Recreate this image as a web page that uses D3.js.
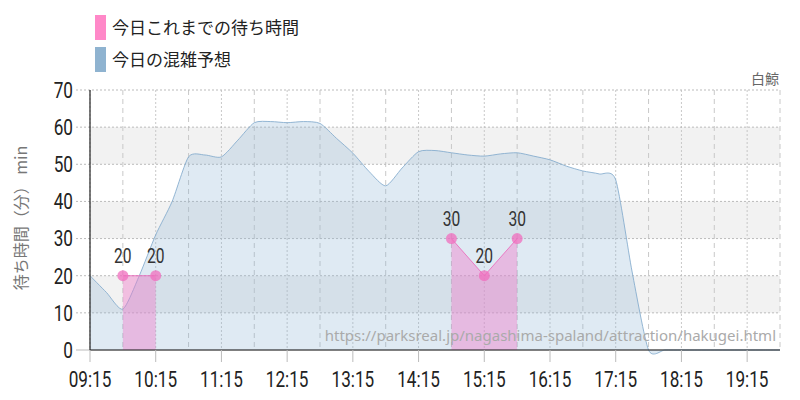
<!DOCTYPE html>
<html>
<head>
<meta charset="utf-8">
<script src="https://cdn.jsdelivr.net/npm/d3@7"></script>
<style>
  body { margin: 0; background: #fff; }
  .tick-label { font-family: Roboto, sans-serif; }
</style>
</head>
<body>
<svg id="chart" width="800" height="400"></svg>
<script>
// forecast (today's crowd prediction), every 15 minutes
const forecastTimes = ["09:15","09:30","09:45","10:00","10:15","10:30","10:45","11:00","11:15","11:30","11:45",
  "12:00","12:15","12:30","12:45","13:00","13:15","13:30","13:45","14:00","14:15","14:30","14:45",
  "15:00","15:15","15:30","15:45","16:00","16:15","16:30","16:45","17:00","17:15","17:30","17:45",
  "18:00","18:15","18:30","18:45","19:00","19:15","19:30","19:45"];
const forecastValues = [20, 15.5, 11, 20, 31, 40, 52, 52.5, 52, 56.5, 61.2,
  61.5, 61.2, 61.5, 61, 57, 53, 48, 44.2, 49, 53.4, 53.7, 53.1,
  52.5, 52.2, 52.8, 53.1, 52.2, 51.2, 49.5, 48.2, 47.4, 45.8, 21, 0,
  0, 0, 0, 0, 0, 0, 0, 0];

// actual wait times so far (two separate runs)
const actualRuns = [
  { times: ["09:45", "10:15"], values: [20, 20] },
  { times: ["14:45", "15:15", "15:45"], values: [30, 20, 30] }
];

const xTickLabels = ["09:15","10:15","11:15","12:15","13:15","14:15","15:15","16:15","17:15","18:15","19:15"];
const yTicks = [0, 10, 20, 30, 40, 50, 60, 70];

const legendItems = [
  { label: "今日これまでの待ち時間", color: "#ff88c8" },
  { label: "今日の混雑予想", color: "#8fb3d0" }
];

const toMin = s => { const [h, m] = s.split(":").map(Number); return h * 60 + m; };

const margin = { top: 90, right: 20, bottom: 50, left: 90 };
const width = 800, height = 400;
const narrow = 0.78; // horizontal squeeze for condensed-looking numbers

const svg = d3.select("#chart");

const x = d3.scaleLinear()
  .domain([toMin("09:15"), toMin("19:45")])
  .range([margin.left, width - margin.right]);

const y = d3.scaleLinear()
  .domain([0, 70])
  .range([height - margin.bottom, margin.top]);

// alternating bands
svg.append("g")
  .selectAll()
  .data([10, 30, 50])
  .join("rect")
    .attr("x", x.range()[0])
    .attr("y", d => y(d + 10))
    .attr("width", x.range()[1] - x.range()[0])
    .attr("height", d => y(d) - y(d + 10))
    .attr("fill", "#f2f2f2");

// vertical grid every 30 minutes
const halfHours = d3.range(toMin("09:15"), toMin("19:45") + 1, 30);
svg.append("g")
  .selectAll()
  .data(halfHours)
  .join("line")
    .attr("x1", d => x(d)).attr("x2", d => x(d))
    .attr("y1", y(70)).attr("y2", y(0))
    .attr("stroke", "#c8c8c8")
    .attr("stroke-width", 1)
    .attr("stroke-dasharray", d => ((d - toMin("09:15")) % 60 === 0) ? "2,2" : "5,4");

// horizontal grid
svg.append("g")
  .selectAll()
  .data(yTicks)
  .join("line")
    .attr("x1", x.range()[0] - 14).attr("x2", x.range()[1])
    .attr("y1", d => y(d)).attr("y2", d => y(d))
    .attr("stroke", "#bbb")
    .attr("stroke-dasharray", d => d === 0 ? null : "2,2");

// forecast area
const fData = forecastTimes.map((t, i) => ({ t: toMin(t), v: forecastValues[i] }));
const area = d3.area()
  .x(d => x(d.t))
  .y0(y(0))
  .y1(d => y(d.v))
  .curve(d3.curveCardinal.tension(0.3));
const line = d3.line()
  .x(d => x(d.t))
  .y(d => y(d.v))
  .curve(d3.curveCardinal.tension(0.3));

svg.append("path")
  .datum(fData)
  .attr("d", area)
  .attr("fill", "rgba(140,180,212,0.28)");
svg.append("path")
  .datum(fData)
  .attr("d", line)
  .attr("fill", "none")
  .attr("stroke", "rgba(130,170,205,0.85)")
  .attr("stroke-width", 1);

// helper: squeezed number text
const narrowText = (sel, size, anchor) => sel
  .attr("class", "tick-label")
  .attr("font-size", size)
  .attr("text-anchor", anchor);

// actual wait time runs
const actualArea = d3.area().x(d => x(d.t)).y0(y(0)).y1(d => y(d.v));
const actualLine = d3.line().x(d => x(d.t)).y(d => y(d.v));
actualRuns.forEach(run => {
  const data = run.times.map((t, i) => ({ t: toMin(t), v: run.values[i] }));
  svg.append("path")
    .datum(data)
    .attr("d", actualArea)
    .attr("fill", "rgba(240,120,200,0.42)");
  svg.append("path")
    .datum(data)
    .attr("d", actualLine)
    .attr("fill", "none")
    .attr("stroke", "rgba(235,100,185,0.8)")
    .attr("stroke-width", 1);
  svg.append("g")
    .selectAll()
    .data(data)
    .join("circle")
      .attr("cx", d => x(d.t))
      .attr("cy", d => y(d.v))
      .attr("r", 5.5)
      .attr("fill", "rgba(240,110,190,0.75)");
  svg.append("g")
    .attr("fill", "#333")
    .selectAll()
    .data(data)
    .join("text")
      .attr("transform", d => `translate(${x(d.t)}, ${y(d.v) - 13}) scale(${narrow}, 1)`)
      .call(narrowText, 20, "middle")
      .text(d => d.v);
});

// axes lines
svg.append("line")
  .attr("x1", x.range()[0]).attr("x2", x.range()[0])
  .attr("y1", y(70)).attr("y2", y(0))
  .attr("stroke", "#222").attr("stroke-width", 1.2);
svg.append("line")
  .attr("x1", x.range()[0]).attr("x2", x.range()[1])
  .attr("y1", y(0)).attr("y2", y(0))
  .attr("stroke", "#222").attr("stroke-width", 1.2);

// x ticks
svg.append("g")
  .selectAll()
  .data(xTickLabels)
  .join("line")
    .attr("x1", d => x(toMin(d))).attr("x2", d => x(toMin(d)))
    .attr("y1", y(0)).attr("y2", y(0) + 12)
    .attr("stroke", "#bbb");

svg.append("g")
  .attr("fill", "#222")
  .selectAll()
  .data(xTickLabels)
  .join("text")
    .attr("transform", d => `translate(${x(toMin(d))}, ${y(0) + 37}) scale(${narrow}, 1)`)
    .call(narrowText, 22, "middle")
    .text(d => d);

svg.append("g")
  .attr("fill", "#222")
  .selectAll()
  .data(yTicks)
  .join("text")
    .attr("transform", d => `translate(${x.range()[0] - 17}, ${y(d)}) scale(${narrow}, 1)`)
    .attr("dy", "0.36em")
    .call(narrowText, 22, "end")
    .text(d => d);

// y axis title
svg.append("text")
  .attr("transform", `translate(27, ${(y(0) + y(70)) / 2 - 2}) rotate(-90)`)
  .attr("text-anchor", "middle")
  .attr("font-family", "Noto Sans CJK JP, sans-serif")
  .attr("font-size", 16)
  .attr("fill", "#777")
  .text("待ち時間（分） min");

// attraction name
svg.append("text")
  .attr("x", 779).attr("y", 84)
  .attr("text-anchor", "end")
  .attr("font-family", "Noto Sans CJK JP, sans-serif")
  .attr("font-size", 14)
  .attr("fill", "#666")
  .text("白鯨");

// source url
svg.append("text")
  .attr("x", 776).attr("y", 341)
  .attr("text-anchor", "end")
  .attr("font-family", "Noto Sans, sans-serif")
  .attr("font-size", 15)
  .attr("fill", "#aaa")
  .text("https://parksreal.jp/nagashima-spaland/attraction/hakugei.html");

// legend
const legend = svg.append("g")
  .selectAll()
  .data(legendItems)
  .join("g")
    .attr("transform", (d, i) => `translate(95, ${15 + i * 32})`);
legend.append("rect")
  .attr("width", 11).attr("height", 25)
  .attr("fill", d => d.color);
legend.append("text")
  .attr("x", 17).attr("y", 13)
  .attr("dy", "0.36em")
  .attr("font-family", "Noto Sans CJK JP, sans-serif")
  .attr("font-size", 17)
  .attr("fill", "#222")
  .text(d => d.label);
</script>
</body>
</html>
